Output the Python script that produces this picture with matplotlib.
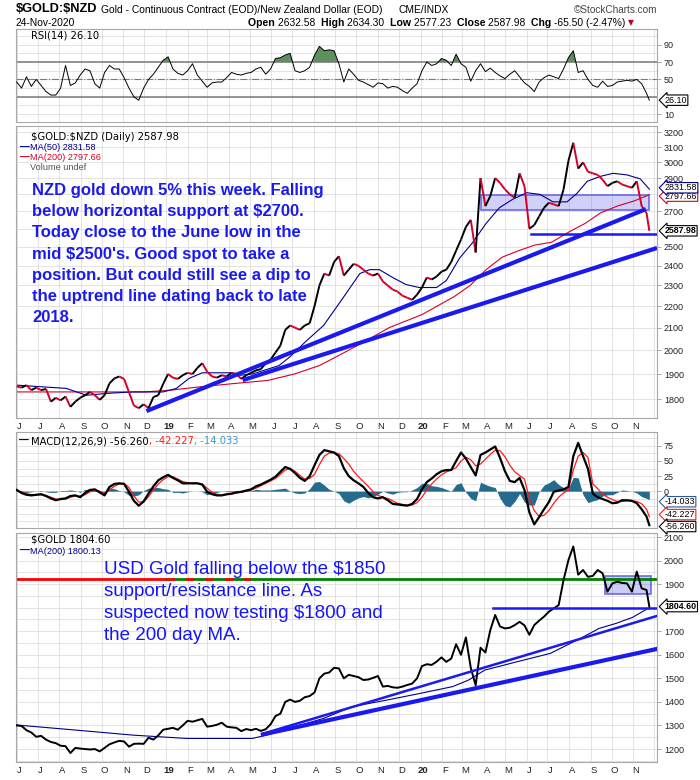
import matplotlib
matplotlib.use("Agg")
import matplotlib.pyplot as plt
import matplotlib.dates as mdates
from matplotlib.collections import LineCollection
from matplotlib.patches import Rectangle
import numpy as np
import pandas as pd

plt.rcParams["font.family"] = ["Liberation Sans", "DejaVu Sans"]

W, H = 700, 780

# weekly closes (Fridays) plus the last bar, 24-Nov-2020
dates = pd.date_range("2018-06-01", "2020-11-20", freq="W-FRI").append(pd.DatetimeIndex(["2020-11-24"]))

nzd_close = [
    1850, 1845, 1855, 1835, 1845, 1835, 1840, 1790, 1805, 1795,
    1810, 1770, 1790, 1805, 1815, 1828, 1815, 1797, 1815, 1862,
    1882, 1890, 1880, 1827, 1775, 1765, 1780, 1765, 1808, 1815,
    1860,
    1900, 1885, 1880, 1895, 1905, 1900, 1925, 1945, 1910, 1890,
    1885, 1895, 1890, 1905, 1900, 1880, 1895, 1905, 1915, 1920,
    1945, 1960, 1990, 2020, 2090, 2110, 2100, 2090, 2110, 2120,
    2200, 2300, 2360, 2350, 2420, 2450, 2350, 2380, 2410, 2400,
    2380, 2360, 2350, 2360, 2320, 2300, 2280, 2270, 2250, 2240,
    2230, 2255,
    2290, 2340, 2330, 2345, 2370, 2380, 2420, 2480, 2540, 2610,
    2650, 2470, 2900, 2730, 2790, 2900, 2870, 2830, 2800, 2780,
    2930, 2850, 2600, 2620, 2670, 2720, 2750, 2740, 2730, 2830,
    3010, 3130, 2960, 3000, 2940, 2930, 2920, 2890, 2850, 2870,
    2880, 2860, 2850, 2840, 2880, 2730, 2690, 2587.98,
]

usd_close = [
    1300, 1298, 1280, 1270, 1252, 1256, 1240, 1230, 1225, 1214,
    1212, 1183, 1205, 1202, 1200, 1198, 1200, 1190, 1205, 1220,
    1228, 1235, 1232, 1210, 1222, 1223, 1222, 1248, 1240, 1258,
    1282,
    1286, 1290, 1282, 1300, 1320, 1316, 1322, 1328, 1295, 1298,
    1303, 1312, 1295, 1292, 1290, 1276, 1285, 1280, 1286, 1277,
    1284, 1305, 1340, 1350, 1400, 1410, 1400, 1405, 1420, 1425,
    1440, 1500, 1520, 1525, 1545, 1542, 1500, 1515, 1510, 1505,
    1493, 1495, 1502, 1510, 1465, 1468, 1462, 1460, 1465, 1472,
    1478, 1500,
    1552, 1560, 1557, 1571, 1589, 1570, 1584, 1645, 1600, 1674,
    1545, 1470, 1630, 1610, 1705, 1769, 1720, 1712, 1715, 1726,
    1740, 1725, 1685, 1726, 1745, 1762, 1783, 1797, 1811, 1917,
    2002, 2060, 1940, 1960, 1931, 1935, 1960, 1946, 1868, 1903,
    1910, 1905, 1903, 1868, 1953, 1882, 1875, 1804.60,
]

rsi = [
    47, 40, 53, 42, 50, 43, 36, 32, 32, 40,
    66, 43, 46, 55, 62, 60, 45, 40, 58, 66,
    62, 62, 52, 40, 30, 26, 40, 50, 56, 64,
    72, 76, 62, 57, 55, 60, 68, 55, 48, 41,
    46, 47, 47, 52, 58, 56, 55, 57, 58, 62,
    64, 56, 62, 74, 75, 78, 80, 60, 58, 60,
    64, 78, 88, 83, 84, 83, 68, 47, 62, 56,
    49, 47, 44, 41, 46, 45, 40, 42, 41, 37,
    34, 40, 45, 60, 70, 66, 68, 74, 72, 66,
    79, 68, 64, 48, 60, 68, 59, 63, 58, 54,
    51, 56, 60, 53, 46, 42, 36, 47, 52, 55,
    53, 51, 62, 75, 83, 58, 60, 50, 43, 41,
    48, 42, 43, 47, 48, 49, 48, 50, 45, 34,
    26.10,
]

macd = [
    2, -3, -6, -7, -6, -5, -8, -12, -15, -13,
    -12, -8, -7, -10, -3, 2, 3, -2, -7, 7,
    12, 13, 12, -1, -16, -24, -17, -4, 8, 18,
    23, 27, 22, 18, 13, 13, 13, 13, 11, -1,
    -5, -7, -7, -5, -4, -2, -1, 1, 3, 8,
    11, 15, 19, 24, 32, 40, 37, 30, 22, 17,
    25, 43, 60, 68, 66, 64, 58, 38, 25, 18,
    13, 7, -3, -10, -12, -10, -15, -21, -22, -23,
    -24, -21, -13, 3, 15, 21, 28, 33, 35, 35,
    50, 64, 54, 40, 26, 60, 64, 69, 74, 55,
    33, 17, 15, 22, 2, -35, -55, -43, -30, -18,
    -1, 1, 3, 7, 58, 80, 58, 37, -4, -10,
    -13, -16, -20, -19, -15, -15, -16, -20, -30, -42,
    -56.260,
]

signal = [
    0, -1, -4, -6, -6, -6, -7, -10, -13, -14,
    -13, -10, -8, -8, -6, -1, 1, 0, -4, 2,
    8, 12, 13, 6, -8, -18, -18, -9, 2, 12,
    19, 24, 24, 20, 16, 14, 13, 13, 12, 5,
    -2, -5, -7, -6, -5, -3, -2, 0, 2, 5,
    9, 13, 17, 21, 28, 35, 37, 33, 26, 20,
    21, 28, 44, 58, 63, 64, 62, 54, 45, 33,
    24, 16, 8, -1, -7, -10, -12, -16, -20, -22,
    -23, -23, -19, -10, 2, 12, 20, 27, 32, 35,
    39, 50, 56, 52, 42, 45, 53, 61, 68, 67,
    57, 43, 32, 26, 20, -12, -32, -42, -40, -32,
    -20, -10, -3, 2, 35, 58, 64, 56, 12, 4,
    -5, -10, -14, -17, -17, -16, -16, -17, -21, -30,
    -42.227,
]

ma50_dates = ["2018-06-01", "2018-08-11", "2018-09-09", "2018-10-12", "2018-11-15", "2018-12-28",
              "2019-01-16", "2019-02-03", "2019-02-22", "2019-04-07", "2019-04-17", "2019-05-05",
              "2019-06-12", "2019-06-27", "2019-07-21", "2019-08-15", "2019-09-12", "2019-10-06",
              "2019-10-20", "2019-11-03", "2019-11-22", "2019-12-11", "2019-12-30", "2020-01-24",
              "2020-02-07", "2020-02-26", "2020-03-15", "2020-04-04", "2020-04-23", "2020-05-12",
              "2020-06-01", "2020-06-20", "2020-07-09", "2020-07-29", "2020-08-12", "2020-08-27",
              "2020-09-14", "2020-10-03", "2020-10-23", "2020-11-11", "2020-11-24"]
ma50_vals = [1855, 1842, 1815, 1823, 1828, 1828,
             1842, 1882, 1905, 1905, 1895, 1900,
             1935, 1970, 2040, 2110, 2240, 2360,
             2380, 2380, 2340, 2305, 2290, 2290,
             2325, 2440, 2520, 2630, 2720, 2770,
             2810, 2800, 2755, 2755, 2805, 2880,
             2910, 2930, 2920, 2895, 2831.58]

ma200_dates = ["2018-06-01", "2018-12-01", "2019-01-08", "2019-02-18", "2019-04-07", "2019-05-27",
               "2019-07-04", "2019-08-09", "2019-08-28", "2019-10-01", "2019-11-17", "2020-01-03",
               "2020-02-18", "2020-03-12", "2020-04-04", "2020-04-27", "2020-05-21", "2020-06-13",
               "2020-07-07", "2020-07-31", "2020-08-24", "2020-09-15", "2020-10-09", "2020-11-02",
               "2020-11-24"]
ma200_vals = [1828, 1828, 1835, 1848, 1861, 1874,
              1900, 1935, 1964, 2018, 2100, 2160,
              2245, 2300, 2380, 2445, 2480, 2510,
              2525, 2580, 2630, 2690, 2730, 2760,
              2797.66]

usd_ma200_dates = ["2018-06-01", "2018-08-11", "2018-11-15", "2018-12-23", "2019-01-31", "2019-05-05",
                   "2019-05-25", "2019-08-15", "2019-09-25", "2019-11-14", "2019-12-31", "2020-02-16",
                   "2020-03-10", "2020-04-02", "2020-05-19", "2020-07-05", "2020-08-22", "2020-09-13",
                   "2020-10-07", "2020-10-31", "2020-11-24"]
usd_ma200_vals = [1302, 1284, 1259, 1252, 1245, 1245,
                  1259, 1330, 1380, 1408, 1436, 1465,
                  1493, 1535, 1571, 1606, 1677, 1712,
                  1733, 1759, 1800.13]

# tick labels hidden behind the value tags are left out, as on the reference
price_ticks = [1800, 1900, 2000, 2100, 2200, 2300, 2400, 2500, 2700, 2900, 3000, 3100, 3200]
price_grid = list(range(1800, 3300, 100))
gold_ticks = [1200, 1300, 1400, 1500, 1600, 1700, 1900, 2000, 2100]
rsi_ticks = [10, 50, 70, 90]
macd_ticks = [0, 25, 50, 75]

note_nzd = ["NZD gold down 5% this week. Falling",
            "below horizontal support at \\$2700.",
            "Today close to the June low in the",
            "mid \\$2500's. Good spot to take a",
            "position. But could still see a dip to",
            "the uptrend line dating back to late",
            "2018."]
note_usd = ["USD Gold falling below the \\$1850",
            "support/resistance line. As",
            "suspected now testing \\$1800 and",
            "the 200 day MA."]

GRID = "#dedede"
BLUE = "#1a1aee"
RED = "#d4002a"


def dn(d):
    return mdates.date2num(pd.to_datetime(d))


x = mdates.date2num(dates.to_pydatetime())
x0, x1 = dn("2018-05-31"), dn("2020-12-05")
months = pd.date_range("2018-06-01", "2020-12-01", freq="MS")
month_labels = []
for m in months[:30]:
    if m.month == 1:
        month_labels.append(str(m.year)[2:])
    else:
        month_labels.append(m.strftime("%b")[0])

fig = plt.figure(figsize=(7, 7.8), dpi=100)
fig.patch.set_facecolor("white")


def panel(top, bottom):
    ax = fig.add_axes([16 / W, 1 - bottom / H, 641 / W, (bottom - top) / H])
    ax.set_xlim(x0, x1)
    for s in ax.spines.values():
        s.set_color("#a8a8a8")
        s.set_linewidth(0.8)
    ax.yaxis.tick_right()
    ax.tick_params(axis="y", length=3, width=0.6, color="#999999", pad=2,
                   labelsize=6.5, labelcolor="#222222")
    ax.set_xticks([])
    for m in months:
        ax.axvline(dn(m), color=GRID, lw=0.6, zorder=0)
    return ax


def month_axis(ax):
    for m, lab in zip(months[:30], month_labels):
        ax.annotate(lab, xy=(dn(m) + 4, 0), xycoords=("data", "axes fraction"),
                    xytext=(0, -6), textcoords="offset points", ha="center", va="center",
                    fontsize=6.8, fontweight="bold" if lab.isdigit() else "normal",
                    color="#222222", annotation_clip=False)


def tag(ax, y, s, ec, bold=False, dy=0):
    ax.annotate(s, xy=(1, y), xycoords=("axes fraction", "data"), xytext=(5.5, dy),
                textcoords="offset points", ha="left", va="center", fontsize=6.4,
                fontweight="bold" if bold else "normal", color="black",
                bbox=dict(boxstyle="larrow,pad=0.08", fc="white", ec=ec, lw=0.8),
                annotation_clip=False, zorder=6)


def ftext(px, py, s, **kw):
    return fig.text(px / W, 1 - py / H, s, va="center", ha=kw.pop("ha", "left"), **kw)


def chain(px, py, pieces):
    r = fig.canvas.get_renderer()
    for s, kw in pieces:
        t = ftext(px, py, s, **kw)
        px += t.get_window_extent(renderer=r).width


# ---- RSI
ax_rsi = panel(29, 122)
ax_rsi.set_ylim(1, 108)
for v in range(10, 110, 10):
    ax_rsi.axhline(v, color=GRID, lw=0.6, zorder=0)
ax_rsi.axhline(70, color="#7a7a7a", lw=1.1, zorder=1)
ax_rsi.axhline(30, color="#7a7a7a", lw=1.1, zorder=1)
ax_rsi.axhline(50, color="#7a7a7a", lw=0.8, ls="-.", zorder=1)
rsi_a = np.array(rsi)
ax_rsi.fill_between(x, rsi_a, 70, where=rsi_a >= 70, interpolate=True, color="#5e8f5e", lw=0, zorder=2)
ax_rsi.plot(x, rsi_a, color="black", lw=0.7, zorder=3)
ax_rsi.set_yticks(rsi_ticks)
ax_rsi.set_yticklabels([str(t) for t in rsi_ticks])
tag(ax_rsi, 26.10, "26.10", "black")

# ---- NZD gold price
ax_p = panel(126, 418)
ax_p.set_yscale("log")
ax_p.set_ylim(1728, 3245)
for v in price_grid:
    ax_p.axhline(v, color=GRID, lw=0.6, zorder=0)
ax_p.set_yticks(price_ticks)
ax_p.set_yticklabels([str(t) for t in price_ticks])
ax_p.minorticks_off()

ax_p.add_patch(Rectangle((dn("2020-03-28"), 2706), dn("2020-11-24") - dn("2020-03-28"), 2795 - 2706,
                         fc=(0.35, 0.35, 0.92, 0.28), ec=(0.35, 0.35, 0.9, 0.75), lw=1.4, zorder=1))
ax_p.plot([dn(d) for d in ma200_dates], ma200_vals, color=RED, lw=0.8, zorder=2)
ax_p.plot([dn(d) for d in ma50_dates], ma50_vals, color="#00008b", lw=0.8, zorder=2)

pts = np.column_stack([x, nzd_close])
segs = np.stack([pts[:-1], pts[1:]], axis=1)
cols = ["black" if nzd_close[i + 1] >= nzd_close[i] else RED for i in range(len(nzd_close) - 1)]
ax_p.add_collection(LineCollection(segs, colors=cols, linewidths=1.4, zorder=3))

ax_p.plot([dn("2018-12-04"), dn("2020-11-19")], [1754, 2712], color=BLUE, lw=3, zorder=4, solid_capstyle="butt")
ax_p.plot([dn("2019-04-21"), x1], [1875, 2494], color=BLUE, lw=3, zorder=4, solid_capstyle="butt")
ax_p.plot([dn("2020-06-08"), x1], [2570, 2570], color=BLUE, lw=1.8, zorder=4)
month_axis(ax_p)
tag(ax_p, 2797.66, "2797.66", RED, dy=-1)
tag(ax_p, 2831.58, "2831.58", "#00008b", dy=1)
tag(ax_p, 2587.98, "2587.98", "black", bold=True)

# ---- MACD
ax_m = panel(432, 528)
ax_m.set_ylim(-61, 98)
for v in np.arange(-50, 100, 12.5):
    ax_m.axhline(v, color=GRID, lw=0.6, zorder=0)
hist = np.array(macd) - np.array(signal)
ax_m.fill_between(x, hist, 0, color="#256b8d", lw=0, zorder=1)
ax_m.plot(x, signal, color="#ff1a1a", lw=0.9, zorder=2)
ax_m.plot(x, macd, color="black", lw=1.6, zorder=3)
ax_m.set_yticks(macd_ticks)
ax_m.set_yticklabels([str(t) for t in macd_ticks])
tag(ax_m, -14.033, "-14.033", "#2a5a9a", dy=-1.5)
tag(ax_m, -42.227, "-42.227", "#ff1a1a", dy=1.5)
tag(ax_m, -56.260, "-56.260", "black", dy=-1)

# ---- USD gold
ax_g = panel(533, 762)
ax_g.set_ylim(1145, 2117)
for v in range(1150, 2150, 50):
    ax_g.axhline(v, color=GRID, lw=0.6, zorder=0)
ax_g.set_yticks(gold_ticks)
ax_g.set_yticklabels([str(t) for t in gold_ticks])
ax_g.plot([x0, dn("2019-01-01")], [1921, 1921], color="#ff0000", lw=2, zorder=2)
ax_g.plot([dn("2019-01-01"), x1], [1921, 1921], color="#008000", lw=2, zorder=2)
ax_g.plot([dn("2019-01-01"), dn("2019-05-01")], [1921, 1921], color="#ff0000", lw=2, dashes=(3, 4), zorder=2)
ax_g.add_patch(Rectangle((dn("2020-09-22"), 1858), dn("2020-11-26") - dn("2020-09-22"), 1934 - 1858,
                         fc=(0.35, 0.35, 0.92, 0.3), ec=(0.35, 0.35, 0.9, 0.75), lw=1.4, zorder=1))
ax_g.plot([dn(d) for d in usd_ma200_dates], usd_ma200_vals, color="#00008b", lw=0.8, zorder=3)
ax_g.plot(x, usd_close, color="black", lw=1.4, zorder=3)
ax_g.plot([dn("2019-05-20"), x1], [1265, 1765], color=BLUE, lw=1.8, zorder=4)
ax_g.plot([dn("2019-05-20"), x1], [1262, 1625], color=BLUE, lw=3, zorder=4)
ax_g.plot([dn("2020-04-14"), x1], [1797, 1797], color=BLUE, lw=1.8, zorder=4)
month_axis(ax_g)
tag(ax_g, 1804.60, "1804.60", "black", bold=True)

# ---- header
ftext(16, 9, "\\$GOLD:\\$NZD", fontsize=9.2, fontweight="bold")
ftext(101, 10, "Gold - Continuous Contract (EOD)/New Zealand Dollar (EOD)", fontsize=7.4)
ftext(398, 10, "CME/INDX", fontsize=7.4)
ftext(657, 10, "\u00a9StockCharts.com", fontsize=7.2, color="#444444", ha="right")
ftext(16, 23, "24-Nov-2020", fontsize=7.4)
chain(248, 23, [("Open ", dict(fontsize=7.6, fontweight="bold")),
                ("2632.58  ", dict(fontsize=7.4)),
                ("High ", dict(fontsize=7.6, fontweight="bold")),
                ("2634.30  ", dict(fontsize=7.4)),
                ("Low ", dict(fontsize=7.6, fontweight="bold")),
                ("2577.23  ", dict(fontsize=7.4)),
                ("Close ", dict(fontsize=7.6, fontweight="bold")),
                ("2587.98  ", dict(fontsize=7.4)),
                ("Chg ", dict(fontsize=7.6, fontweight="bold")),
                ("-65.50 (-2.47%) ", dict(fontsize=7.4)),
                ("\u25bc", dict(fontsize=5.5, color="#c00020", family=["DejaVu Sans"]))])

# ---- panel legends
LEG = dict(family=["DejaVu Sans"], fontsize=7.2)
ftext(31, 35, "RSI(14) 26.10", **LEG)
ftext(31, 137, "\\$GOLD:\\$NZD (Daily) 2587.98", **LEG)
ftext(20, 148, "\u2014", fontsize=7, color="#00008b", fontweight="bold")
ftext(30, 148, "MA(50) 2831.58", fontsize=6.6, color="#00008b")
ftext(20, 158, "\u2014", fontsize=7, color=RED, fontweight="bold")
ftext(30, 158, "MA(200) 2797.66", fontsize=6.6, color=RED)
ftext(30, 168, "Volume undef", fontsize=6.6, color="#555555")
ftext(19, 441, "\u2014", fontsize=7, color="black", fontweight="bold")
chain(31, 441, [("MACD(12,26,9) -56.260", LEG),
                (", -42.227", dict(LEG, color="#ff1a1a")),
                (", -14.033", dict(LEG, color="#3a9ad0"))])
ftext(31, 540, "\\$GOLD 1804.60", **LEG)
ftext(20, 551, "\u2014", fontsize=7, color="#00008b", fontweight="bold")
ftext(30, 551, "MA(200) 1800.13", fontsize=6.6, color="#00008b")

# ---- annotations
for i, line in enumerate(note_nzd):
    ftext(32, 191 + 21 * i, line, fontsize=12, fontweight="bold", color=BLUE)
for i, line in enumerate(note_usd):
    ftext(104, 569 + 22 * i, line, fontsize=13.5, color="#1414ff")

fig.savefig("out.png", dpi=100)
